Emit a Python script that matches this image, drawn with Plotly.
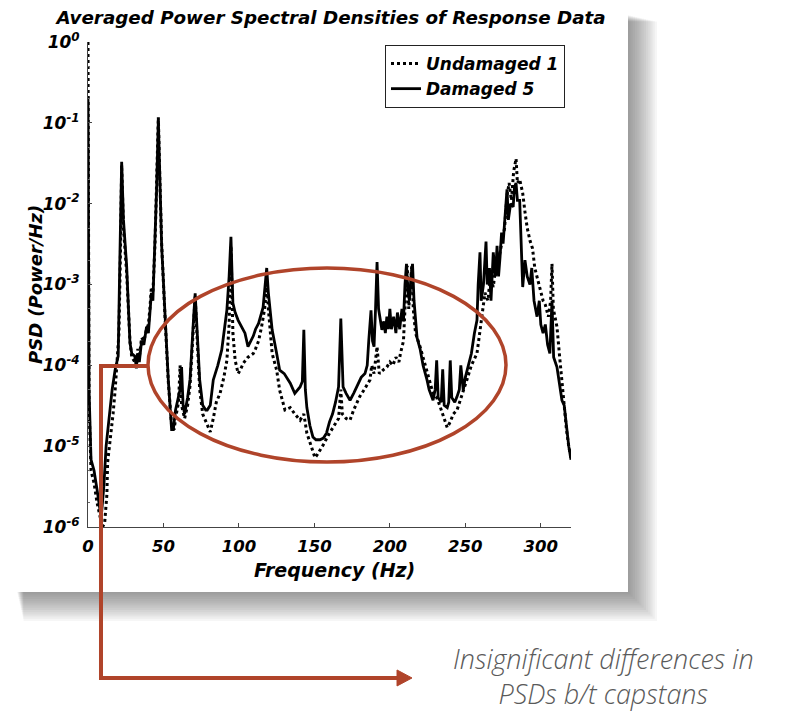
import plotly.graph_objects as go

# ---------------- data ----------------
freq_undamaged = [0, 0.7, 2, 4, 6, 8, 9.5, 11, 12.5, 13, 14.5, 16.6, 18, 19, 20.5, 21.5, 22.3, 23.5, 25.6, 27.8,
                  29, 31, 32, 33, 34, 35.5, 37, 38.8, 40, 41, 42, 43, 44.4, 45.5, 46.6, 47.6, 48.8, 51, 53.2, 55.4,
                  57, 58.5, 60, 61, 62, 64, 66, 67.6, 69, 70, 71, 72, 74, 76, 78, 81, 83, 85, 87.5, 90,
                  92, 93.5, 94.7, 96, 97.5, 99.5, 101, 103, 106, 109.5, 111, 113, 115, 117, 118.6, 119.5, 122, 125, 127, 130.5,
                  134, 137, 140.5, 143, 145, 148, 150.4, 152, 153.7, 156, 160, 163, 166, 167.5, 168.5, 171, 173.6, 176, 180, 183,
                  186.8, 188, 189.5, 191.5, 193, 196, 198, 200, 202, 204, 206, 207, 209, 210.5, 211.5, 212.5, 213.5, 214.5, 215.5, 217,
                  220, 223, 225, 228.6, 231, 233, 235, 238, 240, 242, 244.5, 247, 249, 251, 254, 257.7, 259.5, 261.7, 263, 265,
                  266.5, 268.5, 270, 272, 274, 276, 277.6, 279, 280.5, 282, 283.6, 284.5, 286, 288, 289.5, 291, 292.8, 294.5, 296, 297.5,
                  299, 300, 301.5, 303, 305, 306.5, 307.4, 308.3, 310.7, 312.5, 315, 317, 318.5, 320]
psd_undamaged = [1.0, 3.2e-5, 5.0e-6, 3.5e-6, 2.0e-6, 1.26e-6, 1.0e-6, 1.1e-6, 2.5e-6, 6.3e-6, 1.1e-5, 2.5e-5, 5.0e-5, 1.07e-4, 2.5e-4, 2.5e-3, 3.0e-2, 5.0e-3, 1.4e-3, 2.0e-4,
                 1.26e-4, 1.1e-4, 8.9e-5, 1.6e-4, 1.26e-4, 2.2e-4, 2.0e-4, 2.8e-4, 3.2e-4, 5.0e-4, 9.3e-4, 7.9e-4, 3.2e-3, 2.0e-2, 1.17e-1, 2.0e-2, 3.2e-3, 4.0e-4, 6.3e-5, 1.8e-5,
                 1.6e-5, 2.5e-5, 3.5e-5, 1.0e-4, 3.2e-5, 2.2e-5, 3.2e-5, 5.6e-5, 1.4e-4, 3.5e-4, 7.1e-4, 2.8e-4, 5.0e-5, 2.5e-5, 2.0e-5, 1.5e-5, 2.2e-5, 3.5e-5, 4.5e-5, 7.1e-5,
                 1.15e-4, 3.2e-4, 3.0e-3, 2.5e-4, 1.15e-4, 7.9e-5, 8.9e-5, 1.07e-4, 1.26e-4, 1.4e-4, 1.6e-4, 2.0e-4, 3.0e-4, 5.0e-4, 1.1e-3, 5.0e-4, 1.4e-4, 8.7e-5, 4.9e-5, 2.8e-5,
                 3.0e-5, 2.5e-5, 2.1e-5, 2.5e-5, 1.45e-5, 1.0e-5, 7.2e-6, 7.9e-6, 8.9e-6, 1.05e-5, 1.45e-5, 1.8e-5, 2.2e-5, 5.0e-5, 2.5e-5, 2.2e-5, 2.1e-5, 2.8e-5, 4.1e-5, 5.0e-5,
                 6.6e-5, 1.0e-4, 7.9e-5, 1.7e-4, 7.9e-5, 8.9e-5, 9.5e-5, 1.1e-4, 1.0e-4, 1.26e-4, 1.1e-4, 1.4e-4, 2.0e-4, 7.9e-4, 1.7e-3, 5.0e-4, 1.0e-3, 1.7e-3, 5.0e-4, 2.5e-4,
                 1.7e-4, 1.1e-4, 7.9e-5, 4.5e-5, 4.0e-5, 3.2e-5, 2.5e-5, 1.7e-5, 2.0e-5, 2.5e-5, 2.8e-5, 4.0e-5, 5.0e-5, 6.6e-5, 1.0e-4, 1.4e-4, 2.5e-4, 5.2e-4, 7.9e-4, 6.3e-4,
                 1.26e-3, 9.3e-4, 1.6e-3, 2.0e-3, 3.2e-3, 5.0e-3, 1.26e-2, 1.8e-2, 1.1e-2, 2.5e-2, 3.6e-2, 1.8e-2, 2.0e-2, 1.35e-2, 7.9e-3, 5.0e-3, 3.5e-3, 2.8e-3, 1.6e-3, 1.26e-3,
                 1.0e-3, 7.9e-4, 6.3e-4, 5.6e-4, 4.0e-4, 6.3e-4, 1.8e-3, 5.0e-4, 3.0e-4, 1.26e-4, 3.7e-5, 1.6e-5, 1.0e-5, 7.1e-6]

freq_damaged = [0, 0.7, 2, 4, 6, 8, 9, 10.5, 12, 14, 16, 18, 20, 21, 22.3, 23.5, 25.6, 27.8, 29, 31,
                32, 33, 34, 35.5, 37, 38.8, 40, 41, 42, 43, 44.4, 45.5, 46.6, 47.6, 48.8, 51, 53.2, 55.4, 56.5, 58,
                59.6, 61, 62, 63, 64, 66, 67.6, 69, 70, 71, 72, 74, 76, 78, 79, 81, 83, 86, 88.6, 90,
                92, 93.5, 94.7, 96, 97.5, 99.5, 102, 104, 106, 108, 109.5, 111, 113, 116, 117.5, 118.4, 119.5, 122, 125, 127,
                130, 134, 137, 140.5, 142, 143, 144, 145, 147, 149, 151, 153.7, 156, 158, 160, 162, 164, 166, 167.5, 168.5,
                169, 171, 173.6, 176, 179, 181, 183.5, 185, 186, 187.5, 188.5, 189.5, 190.5, 191.5, 192.5, 194.7, 196, 197, 198, 199,
                200, 201, 202.5, 204, 205, 206.5, 208, 209, 210, 211, 212, 213, 214, 215, 216, 218, 220, 222, 224.6, 226,
                228.6, 230, 231, 232, 234, 235, 236, 238, 239, 240, 241, 243, 244.5, 246, 247, 248.6, 250, 252, 254, 256,
                257.7, 258.5, 259.7, 260.5, 262, 263.7, 264.5, 266, 267, 268.5, 270, 271, 272, 273, 274, 275, 276, 277.6, 278.5, 280,
                281.7, 282.5, 283.6, 284.5, 286, 287, 288, 289.5, 291, 292.8, 294, 295.5, 297.5, 299, 300, 301.5, 303, 304.5, 306, 307.4,
                308.5, 310.7, 312, 314, 315.5, 317.3, 318.5, 320]
psd_damaged = [2.1e-1, 4.9e-5, 6.8e-6, 5.0e-6, 2.9e-6, 1.6e-6, 1.5e-6, 3.2e-6, 1.0e-5, 2.5e-5, 5.0e-5, 8.9e-5, 1.3e-4, 1.6e-3, 3.3e-2, 6.3e-3, 1.7e-3, 1.9e-4, 1.4e-4, 1.3e-4,
               9.5e-5, 1.4e-4, 1.1e-4, 2.0e-4, 1.8e-4, 3.0e-4, 2.5e-4, 4.4e-4, 7.9e-4, 6.3e-4, 3.0e-3, 1.6e-2, 1.08e-1, 1.6e-2, 3.0e-3, 4.4e-4, 6.6e-5, 1.6e-5, 1.6e-5, 2.8e-5,
               3.7e-5, 5.0e-5, 9.5e-5, 3.2e-5, 2.5e-5, 4.0e-5, 6.6e-5, 1.6e-4, 4.0e-4, 7.8e-4, 3.2e-4, 6.6e-5, 3.2e-5, 2.8e-5, 2.8e-5, 3.2e-5, 6.6e-5, 1.0e-4, 1.55e-4, 2.5e-4,
               4.8e-4, 1.26e-3, 3.9e-3, 5.9e-4, 4.5e-4, 3.6e-4, 3.0e-4, 2.5e-4, 1.7e-4, 2.0e-4, 2.3e-4, 2.8e-4, 3.3e-4, 5.2e-4, 1.0e-3, 1.6e-3, 7.9e-4, 2.75e-4, 1.4e-4, 8.7e-5,
               7.9e-5, 6.0e-5, 4.5e-5, 5.4e-5, 6.3e-5, 2.75e-4, 5.0e-5, 3.0e-5, 1.8e-5, 1.3e-5, 1.2e-5, 1.2e-5, 1.26e-5, 1.45e-5, 2.0e-5, 2.5e-5, 3.5e-5, 5.4e-5, 3.8e-4, 6.3e-5,
               5.4e-5, 4.5e-5, 3.7e-5, 4.5e-5, 6.0e-5, 7.1e-5, 7.9e-5, 1.0e-4, 2.0e-4, 4.8e-4, 2.0e-4, 1.7e-4, 5.0e-4, 1.9e-3, 5.0e-4, 2.75e-4, 3.5e-4, 2.5e-4, 4.0e-4, 2.8e-4,
               5.0e-4, 2.8e-4, 4.0e-4, 2.5e-4, 4.5e-4, 2.8e-4, 5.0e-4, 3.5e-4, 1.0e-3, 1.8e-3, 7.9e-4, 6.3e-4, 1.26e-3, 1.8e-3, 6.3e-4, 2.2e-4, 1.6e-4, 1.0e-4, 6.6e-5, 5.0e-5,
               3.7e-5, 5.0e-5, 1.15e-4, 4.0e-5, 3.5e-5, 8.9e-5, 3.2e-5, 3.0e-5, 3.5e-5, 1.15e-4, 4.0e-5, 3.5e-5, 4.1e-5, 5.0e-5, 1.0e-4, 4.9e-5, 7.1e-5, 1.0e-4, 1.4e-4, 2.5e-4,
               3.6e-4, 1.0e-3, 2.5e-3, 6.3e-4, 1.0e-3, 3.4e-3, 1.0e-3, 1.6e-3, 6.3e-4, 2.5e-3, 1.26e-3, 3.0e-3, 1.26e-3, 2.2e-3, 4.4e-3, 3.2e-3, 6.3e-3, 1.5e-2, 6.3e-3, 1.0e-2,
               9.1e-3, 1.6e-2, 1.8e-2, 1.1e-2, 1.1e-2, 3.2e-3, 9.3e-4, 2.0e-3, 1.26e-3, 1.0e-3, 1.6e-3, 6.3e-4, 4.0e-4, 6.3e-4, 3.2e-4, 2.5e-4, 3.2e-4, 1.8e-4, 1.4e-4, 6.3e-4,
               1.26e-4, 9.5e-5, 6.3e-5, 3.7e-5, 3.2e-5, 1.45e-5, 1.0e-5, 6.8e-6]

x_tick_vals = [0, 50, 100, 150, 200, 250, 300]
y_tick_vals = [1e-6, 1e-5, 1e-4, 1e-3, 1e-2, 1e-1, 1]
y_tick_text = ["10<sup>-6</sup>", "10<sup>-5</sup>", "10<sup>-4</sup>", "10<sup>-3</sup>",
               "10<sup>-2</sup>", "10<sup>-1</sup>", "10<sup>0</sup>"]

# ---------------- layout geometry (pixels) ----------------
W, H = 795, 712
L, R, T, B = 88, 571, 42, 527          # plot area in pixels
PW, PH = R - L, B - T


def px(x):
    return (x - L) / PW


def py(y):
    return (B - y) / PH


FONT = "DejaVu Sans, Liberation Sans, Arial, sans-serif"
RED = "#b0442a"


def bi(size):
    return dict(family=FONT, size=size, color="black", style="italic", weight="bold")


fig = go.Figure()
fig.add_trace(go.Scatter(x=freq_undamaged, y=psd_undamaged, mode="lines", name="Undamaged 1",
                         line=dict(color="black", width=3, dash="dot")))
fig.add_trace(go.Scatter(x=freq_damaged, y=psd_damaged, mode="lines", name="Damaged 5",
                         line=dict(color="black", width=2.8)))

shapes = []
# soft shadow of the figure panel
for i in range(16):
    shapes.append(dict(type="rect", xref="paper", yref="paper", layer="below",
                       x0=px(16 + i * 0.5), x1=px(624 + 2.2 * i), y0=py(14 + i * 0.5), y1=py(588 + 2.2 * i),
                       fillcolor="rgba(40,40,40,0.045)", line=dict(width=0)))
# white panel
shapes.append(dict(type="rect", xref="paper", yref="paper", layer="below",
                   x0=px(-2), x1=px(628), y0=py(-2), y1=py(592),
                   fillcolor="white", line=dict(width=0)))
# red ellipse
shapes.append(dict(type="circle", xref="paper", yref="paper", layer="above",
                   x0=px(148), x1=px(506), y0=py(462), y1=py(268),
                   line=dict(color=RED, width=3.5)))
# red bracket to the note
path = "M {:.4f},{:.4f} L {:.4f},{:.4f} L {:.4f},{:.4f} L {:.4f},{:.4f}".format(
    px(149), py(366), px(101), py(366), px(101), py(678), px(400), py(678))
shapes.append(dict(type="path", xref="paper", yref="paper", layer="above", path=path,
                   line=dict(color=RED, width=4)))
arrow = "M {:.4f},{:.4f} L {:.4f},{:.4f} L {:.4f},{:.4f} Z".format(
    px(397), py(670), px(412), py(678), px(397), py(686))
shapes.append(dict(type="path", xref="paper", yref="paper", layer="above", path=arrow,
                   fillcolor=RED, line=dict(color=RED, width=1)))

NOTE_FONT = dict(family="Open Sans, sans-serif", size=27, color="#5a5a5a", style="italic", weight=300)
annotations = [
    dict(text="Insignificant differences in<br>PSDs b/t capstans", xref="paper", yref="paper",
         x=px(603), y=py(676), showarrow=False, xanchor="center", yanchor="middle", align="center",
         font=NOTE_FONT),
    dict(text="Frequency (Hz)", xref="paper", yref="paper", x=px(334), y=py(570),
         showarrow=False, xanchor="center", yanchor="middle", font=bi(19)),
    dict(text="PSD (Power/Hz)", xref="paper", yref="paper", x=px(35), y=py(285), textangle=-90,
         showarrow=False, xanchor="center", yanchor="middle", font=bi(18)),
]

fig.update_layout(
    width=W, height=H,
    margin=dict(l=L, r=W - R, t=T, b=H - B, pad=0),
    paper_bgcolor="white", plot_bgcolor="rgba(0,0,0,0)",
    title=dict(text="Averaged Power Spectral Densities of Response Data",
               x=px(331), xanchor="center", xref="paper", y=1 - 18 / H, yanchor="middle",
               font=bi(18.3)),
    font=dict(family=FONT, color="black"),
    showlegend=True,
    legend=dict(x=px(385), y=py(45), xanchor="left", yanchor="top",
                bgcolor="white", bordercolor="#222222", borderwidth=1,
                font=bi(17), itemwidth=30, tracegroupgap=2),
    shapes=shapes,
    annotations=annotations,
)

fig.update_xaxes(range=[0, 320], tickvals=x_tick_vals, ticks="inside", ticklen=4, tickcolor="#444",
                 showline=True, linecolor="#444", linewidth=1, mirror=False, showgrid=False, zeroline=False,
                 tickfont=bi(16.5), ticklabelstandoff=4)
fig.update_yaxes(type="log", range=[-6, 0], tickvals=y_tick_vals, ticktext=y_tick_text,
                 ticks="inside", ticklen=4, tickcolor="#444",
                 minor=dict(ticks="inside", ticklen=2, tickcolor="#666", showgrid=False),
                 showline=True, linecolor="#444", linewidth=1, mirror=False, showgrid=False, zeroline=False,
                 tickfont=bi(17), ticklabelstandoff=4)

fig.write_html("out.html", config={"displayModeBar": False},
               post_script="document.body.style.margin='0';document.body.style.padding='0';")
